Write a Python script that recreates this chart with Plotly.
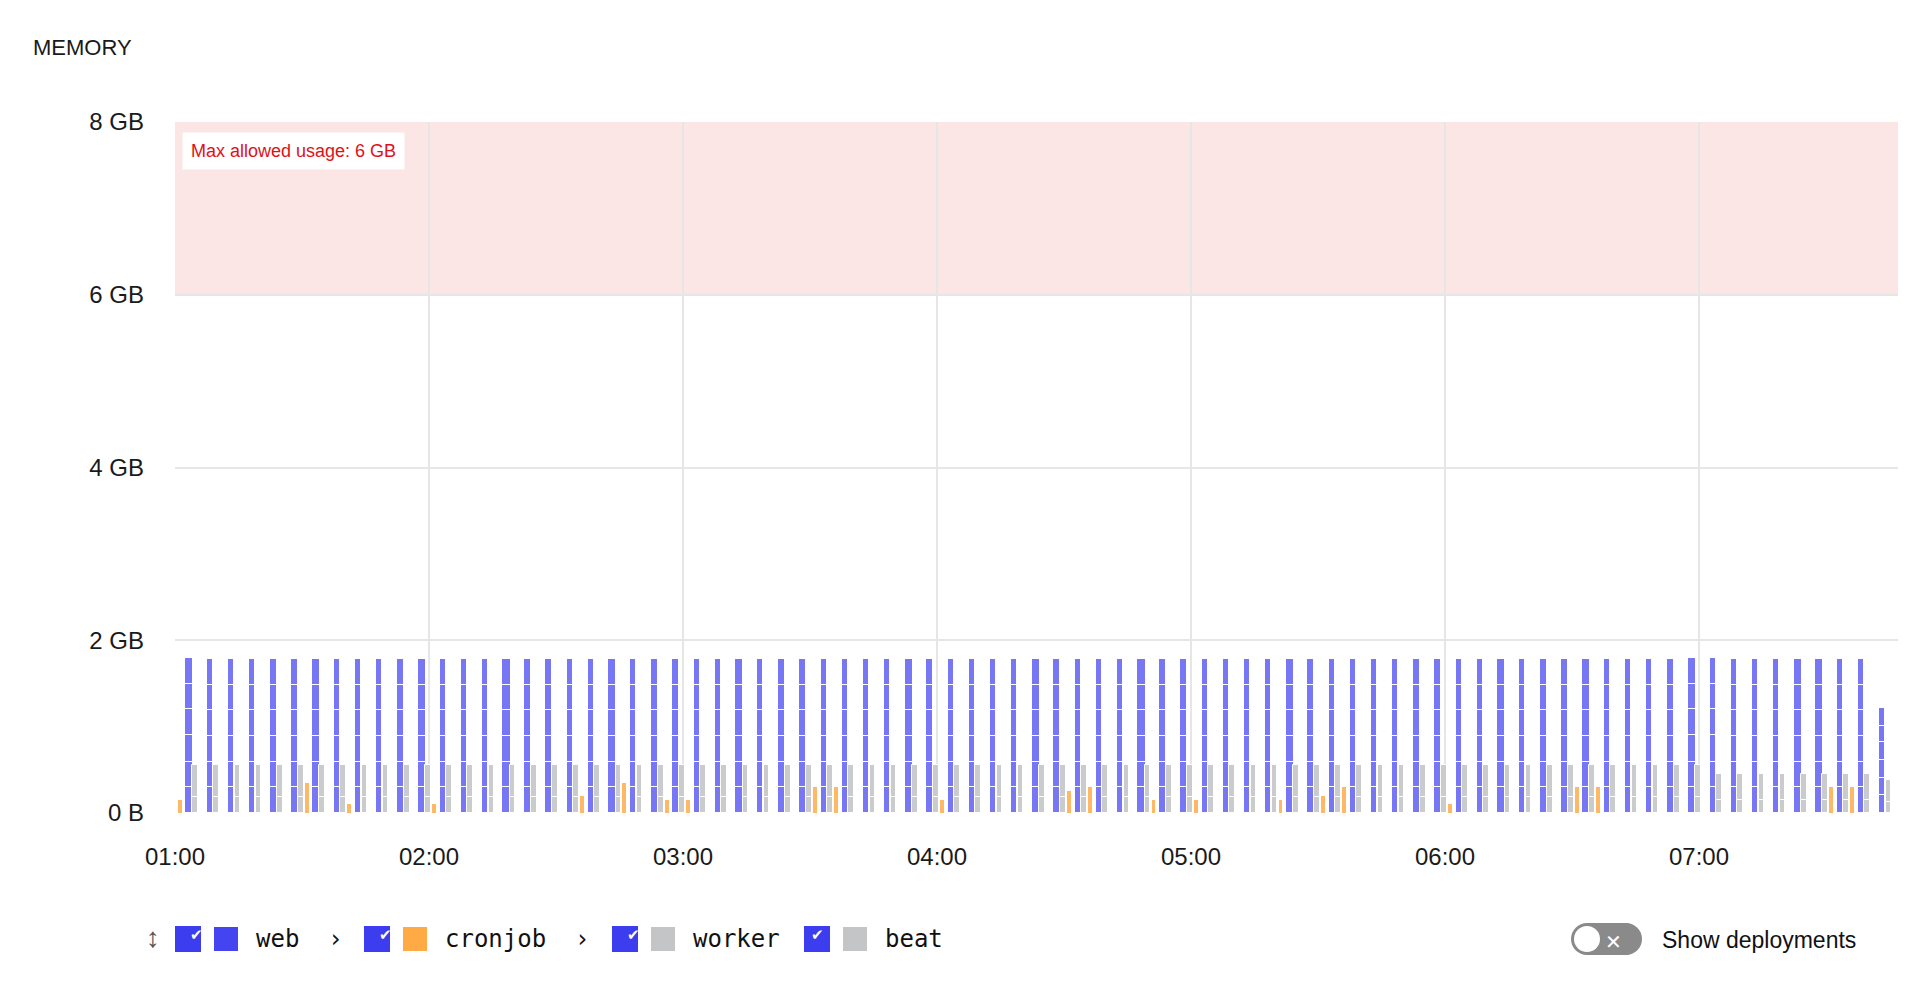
import plotly.graph_objects as go
import pandas as pd

times = pd.date_range("2024-01-01 01:00", "2024-01-01 07:40", freq="5min")
web_total = [1.80,1.78,1.78,1.78,1.78,1.78,1.78,1.78,1.78,1.78,1.78,1.78,
             1.78,1.78,1.78,1.78,1.78,1.78,1.78,1.78,1.78,1.78,1.78,1.78,
             1.78,1.78,1.78,1.78,1.78,1.78,1.78,1.78,1.78,1.78,1.78,1.78,
             1.78,1.78,1.78,1.78,1.78,1.78,1.78,1.78,1.78,1.78,1.78,1.78,
             1.78,1.78,1.78,1.78,1.78,1.78,1.78,1.78,1.78,1.78,1.78,1.78,
             1.78,1.78,1.78,1.78,1.78,1.78,1.78,1.78,1.78,1.78,1.78,1.80,
             1.80,1.78,1.78,1.78,1.78,1.78,1.78,1.78,1.22]
web_pod_share = [0.17, 0.16, 0.17, 0.17, 0.16, 0.17]
web_wide = [0,6,11,15,20,26,34,40,45,52,62,66,71,76,77]
worker_total = [0.55,0.55,0.55,0.55,0.55,0.55,0.55,0.55,0.55,0.55,0.55,0.55,
                0.55,0.55,0.55,0.55,0.55,0.55,0.55,0.55,0.55,0.55,0.55,0.55,
                0.55,0.55,0.55,0.55,0.55,0.55,0.55,0.55,0.55,0.55,0.55,0.55,
                0.55,0.55,0.55,0.55,0.55,0.55,0.55,0.55,0.55,0.55,0.55,0.55,
                0.55,0.55,0.55,0.55,0.55,0.55,0.55,0.55,0.55,0.55,0.55,0.55,
                0.55,0.55,0.55,0.55,0.55,0.55,0.55,0.55,0.55,0.55,0.55,0.55,
                0.45,0.45,0.45,0.45,0.45,0.45,0.45,0.45,0.38]
worker_share = [0.33, 0.67]
cronjob = [0.15,0,0,0,0,0,0.35,0,0.1,0,0,0,0.1,0,0,0,0,0,0,0.2,0,0.35,0,0.15,
           0.15,0,0,0,0,0,0.3,0.3,0,0,0,0,0.15,0,0,0,0,0,0.25,0.3,0,0,0.15,0,
           0.15,0,0,0,0.15,0,0.2,0.3,0,0,0,0,0.1,0,0,0,0,0,0.3,0.3,0,0,0,0,
           0,0,0,0,0,0,0.3,0.3,0]

BLUE = "rgba(104,104,245,0.9)"
GRAY = "#c9cbcc"
ORANGE = "#ffb866"
SEC = 1000
L, R, T, B = 167, 36, 114, 195
W, H = 1926, 1000

fig = go.Figure()
base = [0.0]*len(times)
for sh in web_pod_share:
    vals = [t*sh for t in web_total]
    fig.add_trace(go.Bar(x=times, y=vals, base=base,
        offset=[140*SEC if i in web_wide else 150*SEC for i in range(len(times))],
        width=[115*SEC if i in web_wide else 90*SEC for i in range(len(times))],
        marker=dict(color=BLUE, line=dict(color="white", width=1)), showlegend=False))
    base = [b+v for b, v in zip(base, vals)]
base = [0.0]*len(times)
for sh in worker_share:
    vals = [t*sh for t in worker_total]
    fig.add_trace(go.Bar(x=times, y=vals, base=base, offset=245*SEC, width=80*SEC,
        marker=dict(color=GRAY, line=dict(color="white", width=1)), showlegend=False))
    base = [b+v for b, v in zip(base, vals)]
fig.add_trace(go.Bar(x=times, y=cronjob, offset=40*SEC, width=55*SEC,
    marker=dict(color=ORANGE, line=dict(width=0)), showlegend=False))

fig.add_shape(type="rect", xref="paper", yref="y", x0=0, x1=1, y0=6, y1=8,
              fillcolor="rgba(240,160,160,0.28)", line_width=0, layer="below")
fig.add_annotation(xref="paper", yref="y", x=0.004, y=7.88, xanchor="left", yanchor="top",
    text="Max allowed usage: 6 GB", showarrow=False, bgcolor="white", borderpad=8,
    font=dict(color="#e0101a", size=18, family="Liberation Sans"))

fig.update_layout(
    width=W, height=H, barmode="overlay", bargap=0,
    margin=dict(l=L, r=R, t=T, b=B),
    plot_bgcolor="white", paper_bgcolor="white",
    font=dict(family="Liberation Sans", color="#1a1a1a", size=24),
    title=dict(text="MEMORY", x=0.013, y=0.968, xanchor="left", font=dict(size=22, color="#1a1a1a")),
    xaxis=dict(range=[pd.Timestamp("2024-01-01 01:00"), pd.Timestamp("2024-01-01 07:47")],
               tickformat="%H:%M", dtick=3600000, showgrid=True, gridcolor="#e6e6e6",
               gridwidth=2, zeroline=False, showline=False, ticks="", ticklabelstandoff=27),
    yaxis=dict(range=[0, 8], tickvals=[0,2,4,6,8], ticktext=["0 B","2 GB","4 GB","6 GB","8 GB"],
               showgrid=True, gridcolor="#e6e6e6", gridwidth=2, zeroline=False,
               ticklabelstandoff=30),
)

def px2x(px): return (px-L)/(W-L-R)
def py2y(py): return (H-B-py)/(H-T-B)
SY = 931   # shape centre row
ly = py2y(947)  # text row
def rbox(cx, color, s=26):
    fig.add_shape(type="rect", xref="paper", yref="paper", x0=px2x(cx-s/2), x1=px2x(cx+s/2),
                  y0=py2y(SY+s/2), y1=py2y(SY-s/2), fillcolor=color, line_width=0)
legend = [("web", "#4444f0", 180, True), ("cronjob", "#ffaa44", 369, True),
          ("worker", "#c3c5c6", 617, False), ("beat", "#c3c5c6", 809, False)]
fig.add_annotation(xref="paper", yref="paper", x=px2x(136), y=ly, text="↕", showarrow=False,
                   font=dict(size=28, color="#555"))
for name, col, cx, chev in legend:
    rbox(cx, "#3d3df0")
    fig.add_annotation(xref="paper", yref="paper", x=px2x(cx), y=py2y(SY+6), text="✔",
                       showarrow=False, font=dict(size=15, color="white"))
    rbox(cx+38, col, 24)
    fig.add_annotation(xref="paper", yref="paper", x=px2x(cx+66), y=ly, xanchor="left",
        text=name + ("  ›" if chev else ""), showarrow=False,
        font=dict(family="DejaVu Sans Mono", size=24, color="#111"))
# toggle
tx = -8
fig.add_shape(type="rect", xref="paper", yref="paper", x0=px2x(1586+tx), x1=px2x(1628+tx),
              y0=py2y(SY+16), y1=py2y(SY-16), fillcolor="#8a8a8a", line_width=0)
fig.add_shape(type="circle", xref="paper", yref="paper", x0=px2x(1571+tx), x1=px2x(1603+tx),
              y0=py2y(SY+16), y1=py2y(SY-16), fillcolor="#8a8a8a", line_width=0)
fig.add_shape(type="circle", xref="paper", yref="paper", x0=px2x(1610+tx), x1=px2x(1642+tx),
              y0=py2y(SY+16), y1=py2y(SY-16), fillcolor="#8a8a8a", line_width=0)
fig.add_shape(type="circle", xref="paper", yref="paper", x0=px2x(1574+tx), x1=px2x(1600+tx),
              y0=py2y(SY+13), y1=py2y(SY-13), fillcolor="white", line_width=0)
fig.add_annotation(xref="paper", yref="paper", x=px2x(1624+tx), y=ly, text="✕", showarrow=False,
                   font=dict(size=20, color="white"))
fig.add_annotation(xref="paper", yref="paper", x=px2x(1652), y=ly, xanchor="left",
                   text="Show deployments", showarrow=False, font=dict(size=23, color="#111"))

fig.write_html("out.html")
